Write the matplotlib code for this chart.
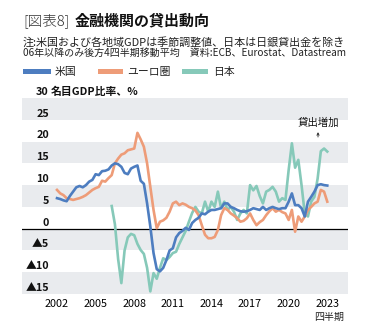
import numpy as np
import matplotlib
matplotlib.use("Agg")
import matplotlib.pyplot as plt
import matplotlib.transforms as mtransforms

plt.rcParams['font.family'] = ['Noto Sans CJK JP', 'DejaVu Sans']

# ---- data (quarterly, % of nominal GDP) ----
us_start = 2002.0
us = [7.0, 6.8, 6.5, 6.3,
      7.5, 8.5, 9.5, 9.8,
      9.5, 10.0, 10.8, 11.2,
      12.5, 12.3, 13.2, 13.3,
      13.6, 14.5, 15.0, 14.8,
      14.2, 12.8, 12.5, 13.8,
      14.2, 14.5, 11.0, 10.3,
      5.8, 0.5, -5.6, -9.3,
      -9.8, -9.0, -7.2, -5.0,
      -4.5, -2.0, -1.0, -0.5,
      0.2, -0.3, 1.3, 2.0,
      2.5, 3.5, 3.3, 3.9,
      4.3, 4.3, 4.5, 4.7,
      5.8, 5.8, 5.0, 4.7,
      4.3, 4.0, 3.9, 4.0,
      4.3, 4.7, 4.5, 4.3,
      5.0, 4.3, 4.7, 5.0,
      4.7, 4.5, 4.7, 4.7,
      6.2, 8.1, 5.4, 5.4,
      4.7, 2.8, 6.2, 7.3,
      8.5, 10.0, 10.2, 10.0,
      9.9]
euro_start = 2002.0
euro = [8.9, 8.1, 7.7, 7.0,
        6.8, 6.6, 6.8, 7.0,
        7.3, 7.7, 8.3, 8.9,
        9.3, 9.6, 11.0, 10.8,
        11.6, 12.3, 15.0, 16.1,
        17.0, 17.3, 18.0, 18.2,
        18.4, 22.0, 20.5, 18.8,
        15.0, 9.6, 4.3, 0.1,
        1.6, 1.9, 2.5, 3.9,
        5.8, 6.2, 5.4, 5.8,
        5.5, 5.0, 4.7, 4.2,
        3.1, 0.8, -1.4, -2.2,
        -2.2, -1.9, -0.3, 3.1,
        4.7, 4.3, 3.5, 3.0,
        2.4, 1.6, 1.8, 2.4,
        3.5, 2.0, 0.8, 1.5,
        2.0, 3.1, 4.0, 4.7,
        3.9, 4.3, 3.8, 3.5,
        2.0, 4.3, -0.7, 2.8,
        1.6, 2.8, 4.3, 5.0,
        5.8, 6.2, 8.9, 8.5,
        6.2]
japan_start = 2006.25
japan = [5.2, 1.0, -7.0,
         -12.5, -5.0, -2.0, -1.2,
         -1.5, -3.5, -4.9, -5.8,
         -9.0, -14.4, -10.2, -11.5,
         -9.0, -6.8, -7.2, -6.5,
         -5.6, -5.3, -3.5, -2.0,
         -0.5, 1.6, 3.6, 5.0,
         3.9, 3.5, 6.2, 3.9,
         6.2, 5.0, 8.5, 4.7,
         6.2, 4.3, 5.0, 3.9,
         2.0, 3.5, 4.3, 3.5,
         10.0, 8.8, 9.8, 7.5,
         5.8, 8.5, 8.9, 9.6,
         8.5, 6.2, 7.0, 6.6,
         13.5, 19.6, 14.0, 15.8,
         10.0, 3.5, 2.8, 6.2,
         7.3, 11.5, 17.8, 18.4,
         17.7]

series_names = ['米国', 'ユーロ圏', '日本']
colors = ['#4d7dc0', '#ee9c78', '#86c9b9']

year_ticks = [2002, 2005, 2008, 2011, 2014, 2017, 2020, 2023]
y_values = [30, 25, 20, 15, 10, 5, 0, -5, -10, -15]
y_labels = ['30', '25', '20', '15', '10', '5', '0', '▲5', '▲10', '▲15']

def qx(start, vals):
    return start + 0.25 * np.arange(len(vals))

W, H = 369, 332
fig = plt.figure(figsize=(W / 100, H / 100), dpi=100)
ax = fig.add_axes([22 / W, 1 - 294 / H, (348 - 22) / W, (294 - 98) / H])
ax.set_xlim(1999.28, 2024.61)
ax.set_ylim(-15, 30)

# gray bands
for lo in [25, 15, 5, -5, -15]:
    ax.axhspan(lo, lo + 5, color='#e9ebee', lw=0, zorder=0)
ax.axhline(0, color='black', lw=0.9, zorder=1)

ax.plot(qx(japan_start, japan), japan, color=colors[2], lw=1.9, zorder=2)
ax.plot(qx(euro_start, euro), euro, color=colors[1], lw=1.9, zorder=3)
ax.plot(qx(us_start, us), us, color=colors[0], lw=1.9, zorder=4)

for s in ax.spines.values():
    s.set_visible(False)
ax.set_yticks([])
ax.set_xticks(year_ticks)
ax.set_xticklabels([str(y) for y in year_ticks], fontsize=7.8)
ax.tick_params(axis='x', length=0, pad=3.5)

# y labels inside the plot
trans = mtransforms.blended_transform_factory(ax.transAxes, ax.transData)
trans = mtransforms.offset_copy(trans, fig=fig, x=0, y=2.2, units='points')
for v, lab in zip(y_values, y_labels):
    ax.text((49 - 22) / 326, v, lab, transform=trans, ha='right', va='baseline',
            fontsize=7.8, fontweight='bold', color='#111111')
ax.text((51 - 22) / 326, 30, '名目GDP比率、%', transform=trans, ha='left', va='baseline',
        fontsize=7.8, fontweight='bold', color='#111111')

# annotation
ax.annotate('', xy=(2022.28, 22.8), xytext=(2022.28, 20.4),
            arrowprops=dict(arrowstyle='->', lw=0.6, color='#222222', mutation_scale=4))
fig.text(318 / W, 1 - 122.7 / H, '貸出増加', ha='center', va='center', fontsize=7.5, color='#111111')

# quarter label
fig.text(329 / W, 1 - 316.7 / H, '四半期', ha='center', va='center', fontsize=7.2, color='#222222')

# title
fig.text(23 / W, 1 - 20.7 / H, '[図表8]', ha='left', va='center', fontsize=10.5,
         fontweight='light', color='#333333')
fig.text(75 / W, 1 - 20.7 / H, '金融機関の貸出動向', ha='left', va='center', fontsize=10.8,
         fontweight='bold', color='#111111')
note1 = fig.text(23 / W, 1 - 42.7 / H, '注:米国および各地域GDPは季節調整値、日本は日銀貸出金を除き',
                 ha='left', va='center', fontsize=8.0, color='#222222')
note2 = fig.text(23 / W, 1 - 53.3 / H, '06年以降のみ後方4四半期移動平均　資料:ECB、Eurostat、Datastream',
                 ha='left', va='center', fontsize=8.0, color='#222222')

# fit note lines to the reference width (x 23..347 px)
renderer = fig.canvas.get_renderer()
for t in (note1, note2):
    w = t.get_window_extent(renderer).width
    t.set_fontsize(min(8.0 * 324 / w, 8.4))

# legend
leg_items = [(23, 51, 55), (98, 123, 127), (182, 208, 213)]
for (x0, x1, tx), name, c in zip(leg_items, series_names, colors):
    fig.patches.append(plt.Rectangle((x0 / W, 1 - 74 / H), (x1 - x0) / W, 4.6 / H,
                                     transform=fig.transFigure, color=c, lw=0))
    fig.text(tx / W, 1 - 71.7 / H, name, ha='left', va='center', fontsize=7.8, color='#222222')

fig.savefig('out.png', dpi=100)
